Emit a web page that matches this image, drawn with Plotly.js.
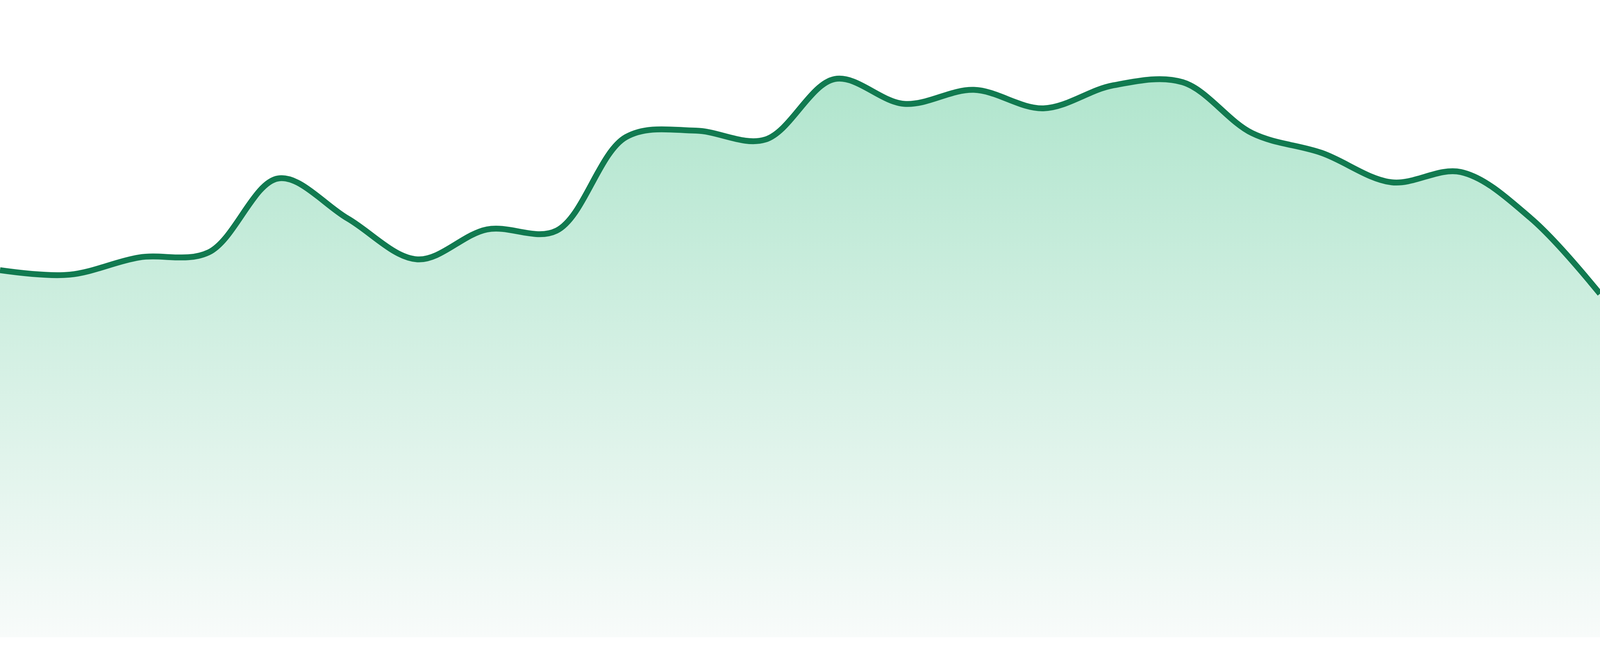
<!DOCTYPE html>
<html>
<head>
<meta charset="utf-8">
<script src="https://cdn.plot.ly/plotly-3.0.1.min.js"></script>
<style>
  html, body { margin: 0; padding: 0; background: #ffffff; overflow: hidden; }
  #chart { width: 100vw; height: 100vh; }
</style>
</head>
<body>
<div id="chart"></div>
<script>
// index of each sample along the x axis
const steps = [0, 1, 2, 3, 4, 5, 6, 7, 8, 9, 10, 11, 12, 13, 14, 15, 16, 17, 18, 19, 20, 21, 22, 23];

// values (axis 0..100)
const values = [57.6, 56.9, 59.6, 60.4, 72.0, 65.7, 59.3, 64.0, 63.8, 78.5, 79.5, 78.1,
                87.6, 83.7, 85.9, 83.0, 86.6, 87.1, 79.1, 76.0, 71.4, 73.0, 65.8, 53.9];

const lineColor = '#117a50';

// the window may be narrower than the reference, so fill whatever we get
const w = window.innerWidth;
const h = window.innerHeight;

Plotly.newPlot('chart', [
    {
        x: steps,
        y: values,
        type: 'scatter',
        mode: 'lines',
        line: { color: lineColor, width: 15, shape: 'spline', smoothing: 1 },
        fill: 'tozeroy',
        fillgradient: {
            type: 'vertical',
            start: 0,
            stop: 88,
            colorscale: [
                [0, 'rgb(248, 251, 250)'],
                [1, 'rgb(176, 229, 205)']
            ]
        },
        hoverinfo: 'skip'
    }
], {
    width: w,
    height: h,
    xaxis: { range: [0, 23], visible: false, fixedrange: true },
    yaxis: { range: [0, 100], visible: false, fixedrange: true },
    plot_bgcolor: '#ffffff',
    paper_bgcolor: '#ffffff',
    showlegend: false,
    margin: { l: 0, r: 0, t: 0, b: h * 48 / 1680 },
    hovermode: false
}, { displayModeBar: false, staticPlot: true });
</script>
</body>
</html>
